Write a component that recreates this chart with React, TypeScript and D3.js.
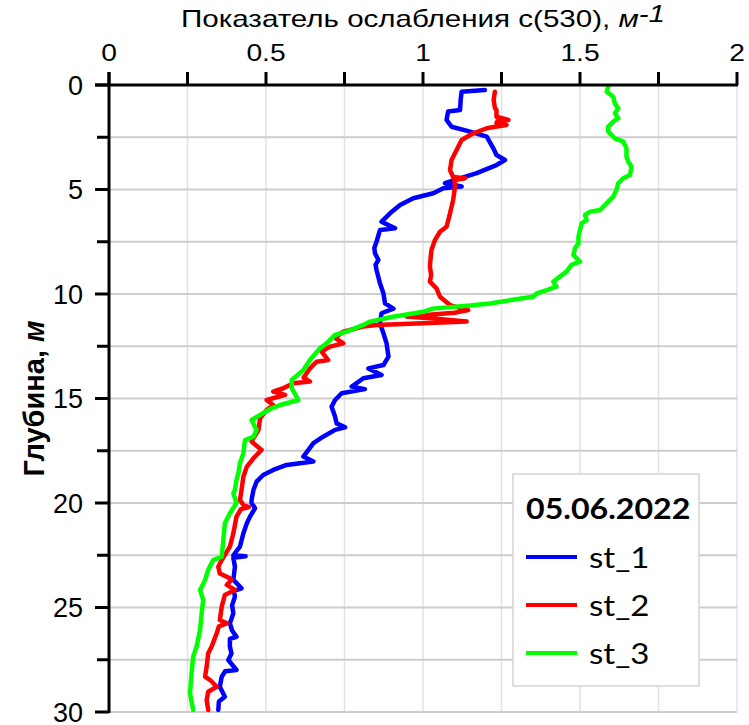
import React from "react";
import * as d3 from "d3";

// Beam attenuation c(530) profiles, 05.06.2022: [depth m, c m^-1]
const st1: [number, number][] = [
  [0.24, 1.197], [0.32, 1.123], [0.7, 1.12], [1.2, 1.118], [1.27, 1.08], [1.67, 1.075],
  [2.0, 1.091], [2.23, 1.15], [2.47, 1.203], [3.03, 1.224], [3.35, 1.234], [3.59, 1.261],
  [3.83, 1.234], [4.22, 1.171], [4.42, 1.128], [4.7, 1.07], [4.86, 1.123], [4.94, 1.065],
  [5.18, 1.033], [5.42, 0.969], [5.74, 0.927], [6.14, 0.895], [6.54, 0.868], [6.86, 0.911],
  [6.94, 0.863], [7.2, 0.858], [7.5, 0.852], [7.8, 0.845], [8.05, 0.847], [8.37, 0.858],
  [8.6, 0.849], [8.85, 0.852], [9.2, 0.858], [9.49, 0.863], [9.97, 0.874], [10.45, 0.879],
  [10.7, 0.906], [10.92, 0.868], [11.4, 0.863], [11.88, 0.874], [12.36, 0.884], [13.0, 0.89],
  [13.4, 0.874], [13.56, 0.826], [13.88, 0.868], [14.03, 0.81], [14.43, 0.773], [14.55, 0.815],
  [14.75, 0.741], [15.07, 0.72], [15.39, 0.709], [15.87, 0.72], [16.19, 0.725], [16.38, 0.752],
  [16.5, 0.72], [16.83, 0.682], [17.14, 0.651], [17.46, 0.635], [17.78, 0.619], [18.02, 0.651],
  [18.1, 0.608], [18.18, 0.566], [18.42, 0.523], [18.66, 0.491], [18.98, 0.47], [19.38, 0.46],
  [19.86, 0.454], [20.0, 0.454], [20.25, 0.465], [20.65, 0.449], [20.97, 0.439], [21.45, 0.428],
  [22.09, 0.417], [22.5, 0.396], [22.55, 0.435], [22.62, 0.396], [23.05, 0.401], [23.68, 0.396],
  [24.08, 0.422], [24.2, 0.398], [24.48, 0.401], [24.9, 0.392], [25.28, 0.396], [25.76, 0.385],
  [26.1, 0.392], [26.4, 0.406], [26.5, 0.385], [26.87, 0.385], [27.2, 0.39], [27.51, 0.38],
  [27.99, 0.406], [28.05, 0.37], [28.31, 0.359], [28.79, 0.353], [29.27, 0.369], [29.5, 0.35],
  [29.9, 0.348],
];

const st2: [number, number][] = [
  [0.32, 1.229], [0.7, 1.225], [1.1, 1.229], [1.2, 1.234], [1.52, 1.234], [1.67, 1.272],
  [1.75, 1.236], [1.83, 1.234], [1.91, 1.266], [2.0, 1.23], [2.07, 1.203], [2.31, 1.16],
  [2.63, 1.123], [3.11, 1.107], [3.59, 1.091], [4.07, 1.086], [4.4, 1.096], [4.46, 1.134],
  [4.55, 1.1], [4.86, 1.102], [5.5, 1.096], [6.14, 1.086], [6.78, 1.075], [7.02, 1.054],
  [7.42, 1.038], [7.89, 1.027], [8.3, 1.024], [8.69, 1.022], [9.1, 1.026], [9.41, 1.022],
  [9.73, 1.043], [10.13, 1.054], [10.53, 1.086], [10.77, 1.144], [10.9, 1.1], [11.08, 0.948],
  [11.2, 1.05], [11.32, 1.139], [11.4, 1.0], [11.48, 0.852], [11.56, 0.81], [11.8, 0.746],
  [12.1, 0.72], [12.36, 0.746], [12.52, 0.704], [12.76, 0.677], [13.16, 0.698], [13.24, 0.661],
  [13.56, 0.64], [14.0, 0.62], [14.19, 0.64], [14.27, 0.587], [14.51, 0.555], [14.67, 0.523],
  [14.83, 0.561], [15.07, 0.502], [15.31, 0.523], [15.55, 0.502], [15.95, 0.481], [16.51, 0.476],
  [16.9, 0.46], [17.06, 0.454], [17.46, 0.486], [17.86, 0.46], [18.26, 0.439], [18.74, 0.428],
  [19.38, 0.422], [19.86, 0.417], [20.1, 0.428], [20.2, 0.445], [20.3, 0.42], [20.65, 0.406],
  [21.45, 0.396], [22.09, 0.385], [22.73, 0.359], [23.05, 0.348], [23.37, 0.353], [23.6, 0.385],
  [23.68, 0.39], [23.92, 0.375], [24.16, 0.401], [24.4, 0.369], [24.96, 0.359], [25.6, 0.353],
  [25.76, 0.375], [25.9, 0.35], [26.23, 0.343], [26.87, 0.327], [27.19, 0.316], [27.83, 0.311],
  [28.31, 0.306], [28.47, 0.322], [28.79, 0.343], [29.03, 0.316], [29.43, 0.311], [29.9, 0.316],
];

const st3: [number, number][] = [
  [0.08, 1.59], [0.32, 1.585], [0.56, 1.606], [0.88, 1.611], [1.12, 1.622], [1.35, 1.611],
  [1.59, 1.622], [1.75, 1.606], [1.99, 1.59], [2.23, 1.59], [2.55, 1.611], [2.71, 1.638],
  [3.03, 1.648], [3.43, 1.648], [3.67, 1.654], [3.91, 1.664], [4.31, 1.659], [4.46, 1.638],
  [4.7, 1.622], [5.02, 1.616], [5.34, 1.606], [5.58, 1.59], [5.98, 1.564], [6.06, 1.532],
  [6.22, 1.516], [6.46, 1.521], [6.62, 1.505], [6.94, 1.5], [7.26, 1.495], [7.58, 1.495],
  [7.81, 1.484], [8.13, 1.479], [8.45, 1.5], [8.61, 1.473], [8.93, 1.457], [9.17, 1.436],
  [9.41, 1.415], [9.65, 1.425], [9.81, 1.394], [9.97, 1.362], [10.13, 1.351], [10.29, 1.28],
  [10.45, 1.213], [10.55, 1.15], [10.7, 1.03], [10.85, 1.001], [11.1, 0.9], [11.32, 0.831],
  [11.48, 0.81], [11.8, 0.757], [11.96, 0.72], [12.36, 0.693], [12.6, 0.672], [13.16, 0.64],
  [13.64, 0.619], [14.11, 0.582], [14.51, 0.582], [15.07, 0.603], [15.31, 0.545], [15.47, 0.518],
  [15.79, 0.481], [16.03, 0.454], [16.51, 0.47], [16.83, 0.46], [16.99, 0.433], [17.62, 0.428],
  [18.1, 0.417], [18.58, 0.412], [18.9, 0.406], [19.38, 0.401], [19.54, 0.396], [20.0, 0.406],
  [20.49, 0.385], [20.97, 0.369], [21.77, 0.364], [22.57, 0.359], [22.73, 0.332], [23.2, 0.316],
  [23.68, 0.306], [24.16, 0.29], [24.64, 0.3], [25.28, 0.295], [26.08, 0.29], [26.87, 0.279],
  [27.35, 0.268], [28.15, 0.263], [29.11, 0.258], [29.9, 0.268],
];

const seriesNames = ["st_1", "st_2", "st_3"];
const seriesColors = ["#0000ff", "#ff0000", "#00ff00"];
const xTicks = [0, 0.25, 0.5, 0.75, 1, 1.25, 1.5, 1.75, 2];
const xTickLabels = ["0", "0.5", "1", "1.5", "2"];
const yTicks = [0, 2.5, 5, 7.5, 10, 12.5, 15, 17.5, 20, 22.5, 25, 27.5, 30];
const yTickLabels = [0, 5, 10, 15, 20, 25, 30];
const legendTitle = "05.06.2022";

const W = 749;
const H = 725;
const left = 109;
const right = 737;
const top = 85;
const bottom = 712;

export default function App() {
  const x = d3.scaleLinear().domain([0, 2]).range([left, right]);
  const y = d3.scaleLinear().domain([0, 30]).range([top, bottom]);
  const line = d3
    .line<[number, number]>()
    .x((d) => x(d[1]))
    .y((d) => y(d[0]));
  const data = [st1, st2, st3];
  const axisFont = "'Liberation Sans', Arial, sans-serif";
  const legendFont = "Lato, 'Open Sans', sans-serif";

  return (
    <svg
      width={W}
      height={H}
      style={{ position: "absolute", left: 0, top: 0, background: "#fff" }}
    >
      {/* grid */}
      {xTicks.slice(1).map((t) => (
        <line key={"gx" + t} x1={x(t)} x2={x(t)} y1={top} y2={bottom}
          stroke="#e2e2e2" strokeWidth={1.5} />
      ))}
      {yTicks.slice(1).map((t) => (
        <line key={"gy" + t} x1={left} x2={right} y1={y(t)} y2={y(t)}
          stroke="#cdcdcd" strokeWidth={2} />
      ))}

      {/* profiles */}
      {data.map((s, i) => (
        <path key={i} d={line(s) || ""} fill="none" stroke={seriesColors[i]}
          strokeWidth={4.5} strokeLinejoin="round" strokeLinecap="round" />
      ))}

      {/* axes */}
      <line x1={left - 14} x2={right + 1} y1={top} y2={top} stroke="#000" strokeWidth={3} />
      <line x1={left} x2={left} y1={top - 13} y2={bottom + 1} stroke="#000" strokeWidth={3} />
      {xTicks.map((t) => (
        <line key={"tx" + t} x1={x(t)} x2={x(t)} y1={top} y2={top - 13}
          stroke="#000" strokeWidth={3} />
      ))}
      {yTicks.map((t) => (
        <line key={"ty" + t} x1={left} x2={left - (t % 5 === 0 ? 14 : 12)} y1={y(t)} y2={y(t)}
          stroke="#000" strokeWidth={3} />
      ))}

      {/* tick labels */}
      {xTickLabels.map((l) => (
        <text key={"lx" + l} transform={`translate(${x(+l)},61) scale(1.2,1)`}
          textAnchor="middle" fontFamily={axisFont} fontSize={23.5} fill="#000">
          {l}
        </text>
      ))}
      {yTickLabels.map((t) => (
        <text key={"ly" + t} x={83} y={y(t) + 9.5} textAnchor="end"
          fontFamily={axisFont} fontSize={27} fill="#000">
          {t}
        </text>
      ))}

      {/* axis titles */}
      <text x={423} y={27} textAnchor="middle" fontFamily={axisFont} fontSize={24}
        fill="#000" textLength={484} lengthAdjust="spacingAndGlyphs">
        Показатель ослабления с(530),{" "}
        <tspan fontStyle="italic">м</tspan>
        <tspan fontStyle="italic" dy={-5}>-1</tspan>
      </text>
      <text transform={`translate(44,${(top + bottom) / 2}) rotate(-90)`} textAnchor="middle"
        fontFamily={axisFont} fontSize={29} fontWeight="bold" fill="#000">
        Глубина, <tspan fontStyle="italic">м</tspan>
      </text>

      {/* legend */}
      <rect x={513} y={474} width={186} height={212} fill="#fff" stroke="#d4d4d4" strokeWidth={1.5} />
      <text transform="translate(526,519) scale(1.09,1)" fontFamily={legendFont}
        fontWeight="bold" fontSize={29.5} fill="#000">
        {legendTitle}
      </text>
      {seriesNames.map((n, i) => (
        <g key={n}>
          <line x1={526} x2={577} y1={557 + i * 48} y2={557 + i * 48}
            stroke={seriesColors[i]} strokeWidth={4} />
          <text transform={`translate(589,${568 + i * 48}) scale(1.12,1)`}
            fontFamily={legendFont} fontSize={29.5} fill="#000">
            {n}
          </text>
        </g>
      ))}
    </svg>
  );
}
